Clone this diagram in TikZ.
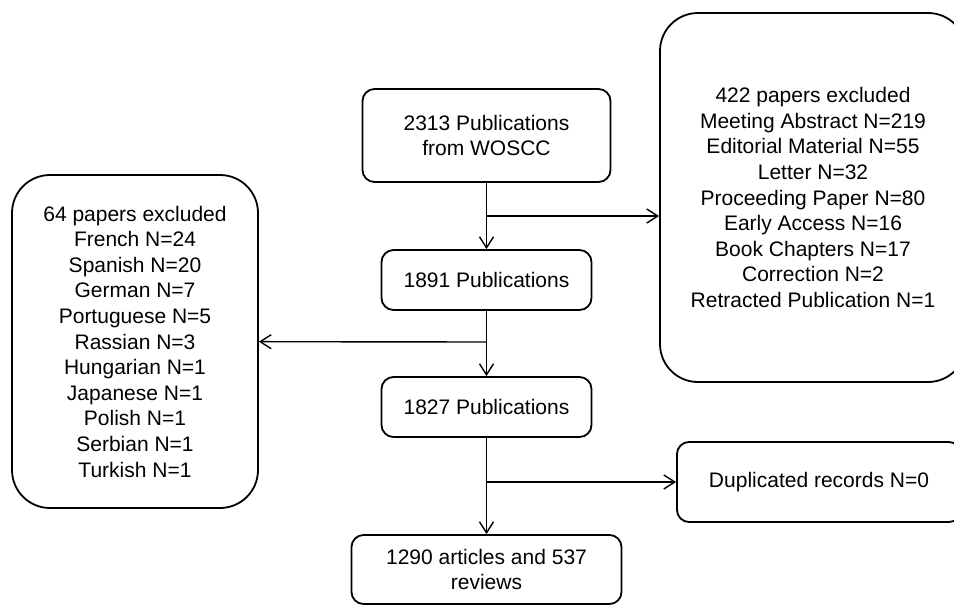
\documentclass[tikz,border=0pt]{standalone}
\usepackage{fontspec}
\setmainfont{Liberation Sans}
\usetikzlibrary{arrows.meta}

\begin{document}
\begin{tikzpicture}[->,>={Straight Barb[length=11pt,width=14pt]},x=1pt,y=-1pt,
  line width=1.4pt,
  main node/.style={draw,line width=1.8pt,rounded corners=12pt,align=center,
    inner sep=0pt,font=\fontsize{21}{25.6}\selectfont},
  big node/.style={main node,rounded corners=38pt}]

  \useasboundingbox (0,0) rectangle (954,606);

  \node[main node,minimum width=248pt,minimum height=93pt] (wos) at (486.5,135.5) {2313 Publications\\from WOSCC};
  \node[main node,minimum width=210pt,minimum height=60pt] (p1891) at (486.5,280) {1891 Publications};
  \node[main node,minimum width=210pt,minimum height=60pt] (p1827) at (486.5,407) {1827 Publications};
  \node[main node,minimum width=270pt,minimum height=69pt] (final) at (486.5,569.5) {1290 articles and 537\\reviews};
  \node[big node,minimum width=246pt,minimum height=333pt] (lang) at (135,341.5)
    {64 papers excluded\\French N=24\\Spanish N=20\\German N=7\\Portuguese N=5\\Rassian N=3\\Hungarian N=1\\Japanese N=1\\Polish N=1\\Serbian N=1\\Turkish N=1};
  \node[big node,minimum width=306pt,minimum height=369pt] (type) at (813,197.5)
    {422 papers excluded\\Meeting Abstract N=219\\Editorial Material N=55\\Letter N=32\\Proceeding Paper N=80\\Early Access N=16\\Book Chapters N=17\\Correction N=2\\Retracted Publication N=1};
  \node[main node,minimum width=284pt,minimum height=80pt] (dup) at (819,482) {Duplicated records N=0};

  \coordinate (b1) at (486.5,216);
  \coordinate (b2) at (486.5,342);
  \coordinate (b3) at (486.5,482);

  \path
    (wos) edge (p1891)
    (p1891) edge (p1827)
    (p1827) edge (final)
    (b1) edge (b1 -| type.west)
    (b2) edge (lang)
    (b3) edge (dup);
\end{tikzpicture}
\end{document}
